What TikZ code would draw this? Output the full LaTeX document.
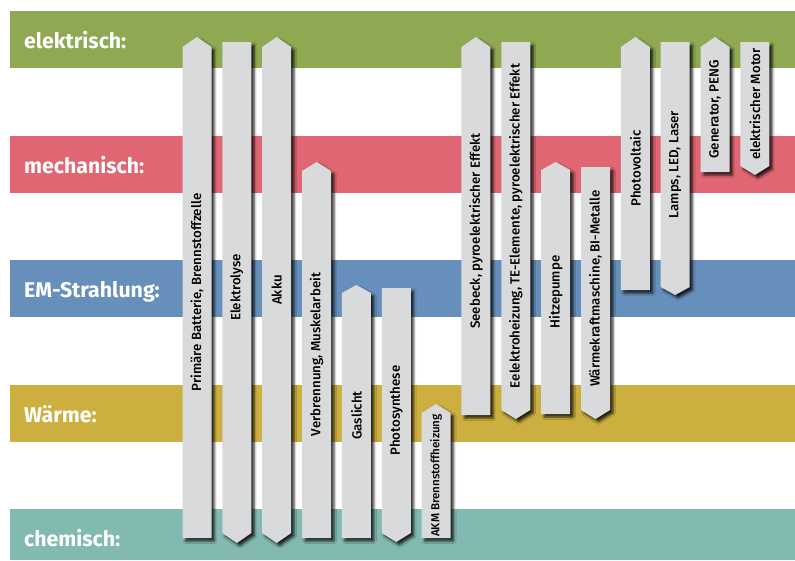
\documentclass[tikz,border=0pt]{standalone}
\usepackage{fontspec}
\setmainfont{Fira Sans}
\newfontfamily\barfont{Fira Sans Medium}
\usetikzlibrary{shadows.blur}

\definecolor{bandgreen}{HTML}{8FA852}
\definecolor{bandred}{HTML}{E06673}
\definecolor{bandblue}{HTML}{6690BB}
\definecolor{bandyellow}{HTML}{CCAF3E}
\definecolor{bandteal}{HTML}{82B9B0}
\definecolor{barfill}{HTML}{D9DADC}

% One converter bar: #1 column, #2 top shoulder y, #3 top tip y,
% #4 bottom shoulder y, #5 bottom tip y, #6 name, #7 label
\newcommand\energybar[8][]{%
  \pgfmathsetmacro\bx{197+39.85*#2}%
  \fill[barbody] (\bx-14.5,#3) -- (\bx,#4) -- (\bx+14.5,#3)
     -- (\bx+14.5,#5) -- (\bx,#6) -- (\bx-14.5,#5) -- cycle;
  \node[barlabel,#1] (#7) at (\bx,{(#3+#5)/2}) {#8};%
}

\begin{document}
\begin{tikzpicture}[x=1pt,y=-1pt,
  bandlabel/.style={anchor=base west,inner sep=0pt,text=white,
    font=\fontsize{21.3}{24}\selectfont\bfseries},
  barbody/.style={fill=barfill,
    blur shadow={shadow xshift=3pt,shadow yshift=-3pt,
      shadow blur radius=2.4pt,shadow opacity=80}},
  barlabel/.style={rotate=90,inner sep=0pt,text=black,
    font=\barfont\fontsize{13.3}{15}\selectfont},
  smalllabel/.style={font=\barfont\fontsize{11.6}{13}\selectfont}]
\useasboundingbox (0,0) rectangle (795,560);

% energy forms
\fill[bandgreen]  (10,11)  rectangle (795,68);
\fill[bandred]    (10,136) rectangle (795,193);
\fill[bandblue]   (10,260) rectangle (795,317);
\fill[bandyellow] (10,385) rectangle (795,442);
\fill[bandteal]   (10,509) rectangle (795,560);

\node[bandlabel] (el) at (24,48)    {elektrisch:};
\node[bandlabel] (me) at (24,173)   {mechanisch:};
\node[bandlabel] (em) at (24,297.5) {EM-Strahlung:};
\node[bandlabel] (wa) at (24,422)   {Wärme:};
\node[bandlabel] (ch) at (24,546)   {chemisch:};

% converters
\energybar{0}{47}{37}{538}{538}{b0}{Primäre Batterie, Brennstoffzelle}
\energybar{1}{42}{42}{533}{543}{b1}{Elektrolyse}
\energybar{2}{47}{37}{533}{543}{b2}{Akku}
\energybar{3}{171}{162}{538}{538}{b3}{Verbrennung, Muskelarbeit}
\energybar{4}{293}{285}{538}{538}{b4}{Gaslicht}
\energybar{5}{288}{288}{533}{542}{b5}{Photosynthese}
\energybar[smalllabel]{6}{413}{404}{538}{538}{b6}{AKM Brennstoffheizung}
\energybar{7}{47}{37}{415}{415}{b7}{Seebeck, pyroelektrischer Effekt}
\energybar{8}{42}{42}{410}{419}{b8}{Eelektroheizung, TE-Elemente, pyroelektrischer Effekt}
\energybar{9}{170}{162}{414}{414}{b9}{Hitzepumpe}
\energybar{10}{167}{167}{410}{419}{b10}{Wärmekraftmaschine, BI-Metalle}
\energybar{11}{47}{37}{290}{290}{b11}{Photovoltaic}
\energybar{12}{42}{42}{287}{295}{b12}{Lamps, LED, Laser}
\energybar{13}{47}{37}{172}{172}{b13}{Generator, PENG}
\energybar{14}{42}{42}{166}{175}{b14}{elektrischer Motor}
\end{tikzpicture}
\end{document}
